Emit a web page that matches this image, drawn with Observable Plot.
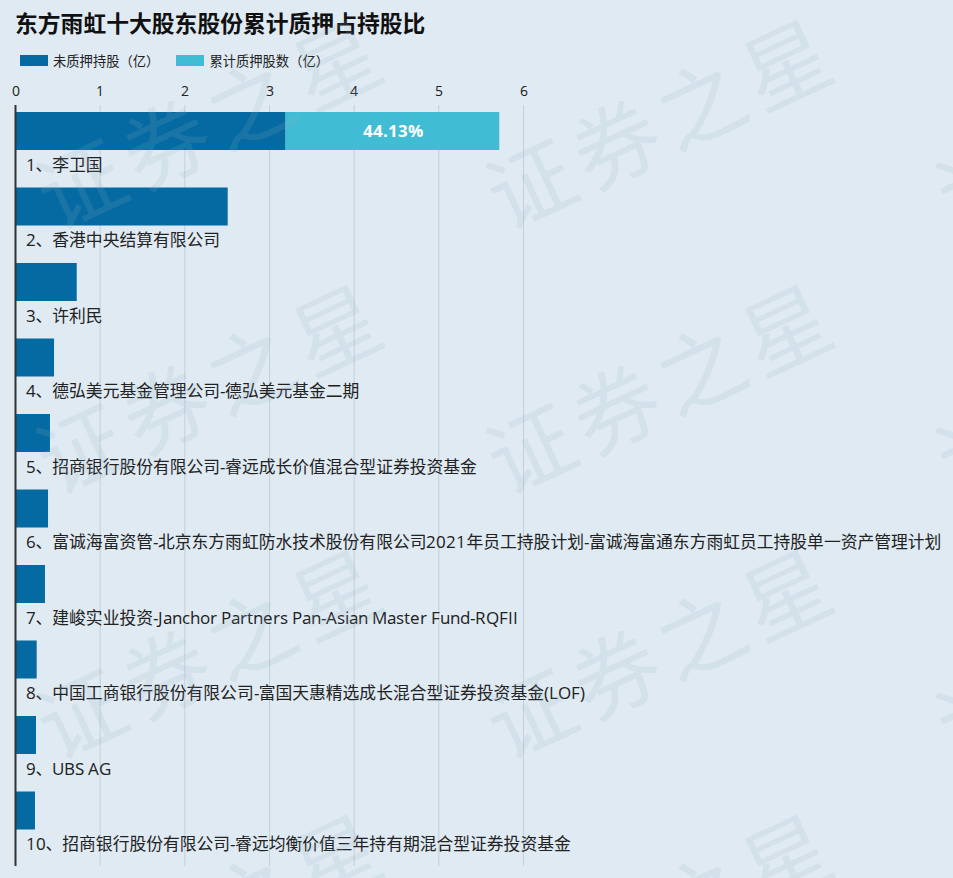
<!DOCTYPE html>
<html>
<head>
<meta charset="utf-8">
<script src="https://cdn.jsdelivr.net/npm/d3@7"></script>
<script src="https://cdn.jsdelivr.net/npm/@observablehq/plot@0.6"></script>
<style>
@font-face { font-family: "LatinWide"; src: local("Open Sans"), local("Open Sans Regular"), local("OpenSans-Regular");
  font-weight: 400; unicode-range: U+0020-007E; size-adjust: 103%; }
@font-face { font-family: "LatinWide"; src: local("Open Sans Bold"), local("OpenSans-Bold"), local("Open Sans");
  font-weight: 700; unicode-range: U+0020-007E; size-adjust: 103%; }
html, body { margin: 0; padding: 0; background: #dfeaf3; }
body { width: 953px; height: 878px; overflow: hidden; position: relative;
  font-family: "LatinWide", "Open Sans", "Noto Sans CJK SC", sans-serif; color: #222; }
#title { position: absolute; left: 15px; top: 6px; font-size: 22.8px; font-weight: bold; color: #111;
  font-family: "Noto Sans CJK SC", sans-serif; }
#legend { position: absolute; left: 20px; top: 51px; display: flex; align-items: center; font-size: 13.3px;
  font-family: "Noto Sans CJK SC", sans-serif; color: #222; }
.item { display: flex; align-items: center; margin-right: 17px; }
.sw { width: 28px; height: 11px; margin-right: 5px; }
#chart { position: absolute; left: 0; top: 75px; line-height: 0; }
#chart svg { display: block; }
.wm { position: absolute; font-size: 86px; color: rgba(150, 175, 195, 0.15); white-space: nowrap;
  transform: translate(-50%, -50%) rotate(-25deg); font-family: "Noto Sans CJK SC", sans-serif;
  letter-spacing: 8px; pointer-events: none; }
</style>
</head>
<body>
<div id="title"></div>
<div id="legend"></div>
<div id="chart"></div>
<div id="wms"></div>
<script>
const titleText = "东方雨虹十大股东股份累计质押占持股比";
const names = [
  "1、李卫国",
  "2、香港中央结算有限公司",
  "3、许利民",
  "4、德弘美元基金管理公司-德弘美元基金二期",
  "5、招商银行股份有限公司-睿远成长价值混合型证券投资基金",
  "6、富诚海富资管-北京东方雨虹防水技术股份有限公司2021年员工持股计划-富诚海富通东方雨虹员工持股单一资产管理计划",
  "7、建峻实业投资-Janchor Partners Pan-Asian Master Fund-RQFII",
  "8、中国工商银行股份有限公司-富国天惠精选成长混合型证券投资基金(LOF)",
  "9、UBS AG",
  "10、招商银行股份有限公司-睿远均衡价值三年持有期混合型证券投资基金"
];
const unpledged = [3.196, 2.512, 0.729, 0.461, 0.413, 0.390, 0.354, 0.256, 0.248, 0.236];
const pledged   = [2.524, 0, 0, 0, 0, 0, 0, 0, 0, 0];
const ratioLabels = ["44.13%", "", "", "", "", "", "", "", "", ""];
const seriesNames = ["未质押持股（亿）", "累计质押股数（亿）"];
const seriesColors = ["#066aa2", "#40bdd4"];
const xTicks = [0, 1, 2, 3, 4, 5, 6];
const watermark = "证券之星";

document.getElementById("title").textContent = titleText;
const legend = document.getElementById("legend");
seriesNames.forEach((s, i) => {
  const it = document.createElement("div"); it.className = "item";
  const sw = document.createElement("div"); sw.className = "sw"; sw.style.background = seriesColors[i];
  const tx = document.createElement("span"); tx.textContent = s;
  it.appendChild(sw); it.appendChild(tx); legend.appendChild(it);
});

const rows = [];
names.forEach((n, i) => {
  rows.push({name: n, series: seriesNames[0], value: unpledged[i]});
  if (pledged[i] > 0) rows.push({name: n, series: seriesNames[1], value: pledged[i]});
});
const labels = names.map((n, i) => ({name: n, x: unpledged[i] + pledged[i] / 2, text: ratioLabels[i]}))
  .filter(d => d.text);

const fam = "LatinWide, 'Open Sans', 'Noto Sans CJK SC', sans-serif";
const chart = Plot.plot({
  width: 953,
  height: 803,
  marginTop: 30,
  marginBottom: 12,
  marginLeft: 15,
  marginRight: 430,
  style: {background: "transparent", fontFamily: fam, fontSize: "14px", color: "#222", overflow: "visible"},
  x: {domain: [0, 6], axis: "top", ticks: xTicks, tickSize: 0, tickPadding: 10, label: null, tickFormat: d => String(d)},
  y: {domain: names, range: [30, 785], axis: null, padding: 0, round: false},
  color: {domain: seriesNames, range: seriesColors},
  marks: [
    Plot.gridX(xTicks, {stroke: "#c3cfd9", strokeOpacity: 1, strokeWidth: 1}),
    Plot.barX(rows, Plot.stackX({x: "value", y: "name", fill: "series", insetTop: 7, insetBottom: 30.5})),
    Plot.text(labels, {x: "x", y: "name", text: "text", fill: "white", fontSize: 16.5, fontWeight: "bold", dy: -12, fontFamily: fam}),
    Plot.text(names, {x: 0, y: d => d, text: d => d, textAnchor: "start", dx: 10, dy: 22, fontSize: 16.8, fill: "#222",
      fontFamily: fam}),
    Plot.ruleX([0], {stroke: "#333", strokeWidth: 2})
  ]
});
document.getElementById("chart").appendChild(chart);

const wms = document.getElementById("wms");
const cols = [210, 660, 1110];
const rws = [118, 383, 648, 913];
cols.forEach(cx => rws.forEach(cy => {
  const d = document.createElement("div"); d.className = "wm"; d.textContent = watermark;
  d.style.left = cx + "px"; d.style.top = cy + "px"; wms.appendChild(d);
}));
</script>
</body>
</html>
